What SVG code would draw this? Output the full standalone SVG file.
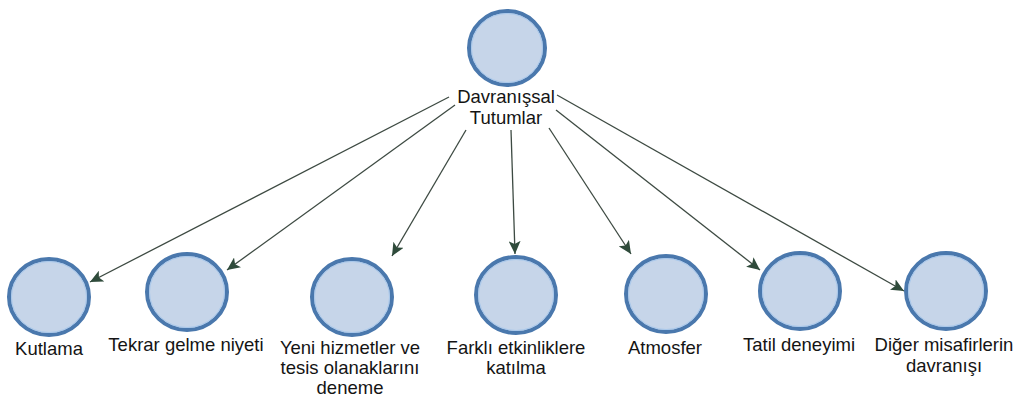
<svg xmlns="http://www.w3.org/2000/svg" width="1019" height="401" viewBox="0 0 1019 401">
  <style>
    .node-shape { fill: #c6d5e9; stroke: #4a78ad; stroke-width: 4; }
    .node-inner { fill: none; stroke: #a8c8ec; stroke-width: 1; }
    .label { font-family: "Liberation Sans", Arial, sans-serif; font-size: 18.5px; fill: #141414; text-anchor: middle; }
    .edge { stroke: #3d4a42; stroke-width: 1.3; fill: none; marker-end: url(#arrow); }
  </style>
  <defs>
    <marker id="arrow" markerUnits="userSpaceOnUse" markerWidth="14" markerHeight="12" viewBox="0 0 14 12" refX="13" refY="6" orient="auto">
      <path d="M0,0 L13,6 L0,12 L3,6 Z" fill="#2f4b3b"/>
    </marker>
  </defs>
  <rect width="1019" height="401" fill="#ffffff"/>

  <g id="connectors">
    <line class="edge" x1="449" y1="97" x2="90" y2="282"/>
    <line class="edge" x1="455" y1="105" x2="227" y2="270"/>
    <line class="edge" x1="466" y1="130" x2="392" y2="256"/>
    <line class="edge" x1="511" y1="130" x2="515" y2="254"/>
    <line class="edge" x1="549" y1="128" x2="631" y2="254"/>
    <line class="edge" x1="556" y1="110" x2="760" y2="270"/>
    <line class="edge" x1="557" y1="95" x2="904" y2="291"/>
  </g>

  <g id="node-root">
    <ellipse class="node-shape" cx="507" cy="48" rx="38" ry="37"/>
    <ellipse class="node-inner" cx="507" cy="48" rx="35.5" ry="34.5"/>
    <text class="label" x="506" y="103">Davranışsal</text>
    <text class="label" x="506" y="124">Tutumlar</text>
  </g>

  <g id="node-kutlama">
    <ellipse class="node-shape" cx="49" cy="297" rx="40" ry="38"/>
    <ellipse class="node-inner" cx="49" cy="297" rx="37.5" ry="35.5"/>
    <text class="label" x="49" y="355">Kutlama</text>
  </g>

  <g id="node-tekrar">
    <ellipse class="node-shape" cx="187" cy="292" rx="40" ry="38"/>
    <ellipse class="node-inner" cx="187" cy="292" rx="37.5" ry="35.5"/>
    <text class="label" x="186" y="351">Tekrar gelme niyeti</text>
  </g>

  <g id="node-yeni">
    <ellipse class="node-shape" cx="352" cy="297" rx="40" ry="38"/>
    <ellipse class="node-inner" cx="352" cy="297" rx="37.5" ry="35.5"/>
    <text class="label" x="350" y="354">Yeni hizmetler ve</text>
    <text class="label" x="350" y="374">tesis olanaklarını</text>
    <text class="label" x="350" y="394">deneme</text>
  </g>

  <g id="node-farkli">
    <ellipse class="node-shape" cx="516" cy="295" rx="40" ry="38"/>
    <ellipse class="node-inner" cx="516" cy="295" rx="37.5" ry="35.5"/>
    <text class="label" x="516" y="354">Farklı etkinliklere</text>
    <text class="label" x="516" y="374">katılma</text>
  </g>

  <g id="node-atmosfer">
    <ellipse class="node-shape" cx="666" cy="294" rx="40" ry="38"/>
    <ellipse class="node-inner" cx="666" cy="294" rx="37.5" ry="35.5"/>
    <text class="label" x="665" y="354">Atmosfer</text>
  </g>

  <g id="node-tatil">
    <ellipse class="node-shape" cx="800" cy="291" rx="40" ry="38"/>
    <ellipse class="node-inner" cx="800" cy="291" rx="37.5" ry="35.5"/>
    <text class="label" x="799" y="351">Tatil deneyimi</text>
  </g>

  <g id="node-diger">
    <ellipse class="node-shape" cx="946" cy="291" rx="40" ry="38"/>
    <ellipse class="node-inner" cx="946" cy="291" rx="37.5" ry="35.5"/>
    <text class="label" x="944" y="351">Diğer misafirlerin</text>
    <text class="label" x="944" y="372">davranışı</text>
  </g>
</svg>
